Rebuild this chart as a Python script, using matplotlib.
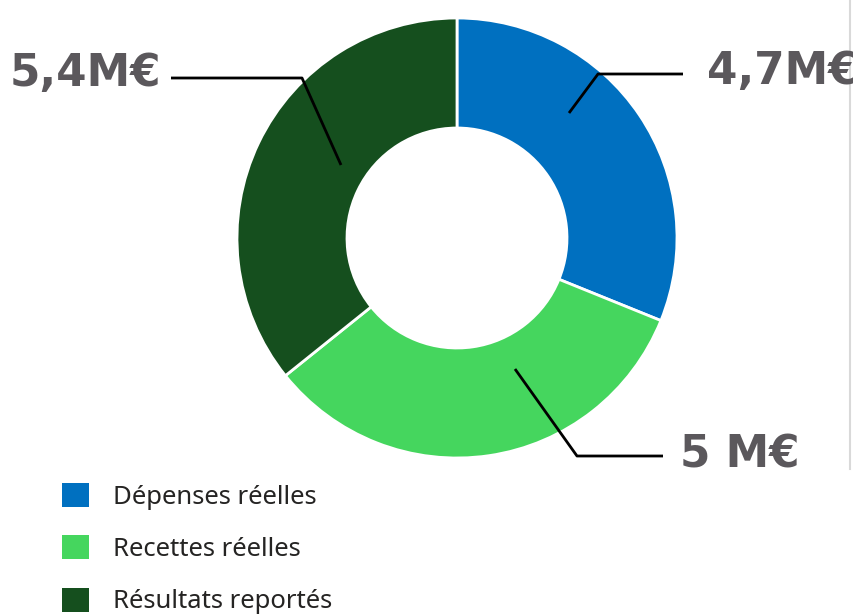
import matplotlib.pyplot as plt
from matplotlib.patches import Patch

categories = ['Dépenses réelles', 'Recettes réelles', 'Résultats reportés']
values = [4.7, 5.0, 5.4]
labels = ['4,7M€', '5 M€', '5,4M€']
colors = ['#0070c0', '#45d65e', '#154f1e']

W, H = 854, 615
fig = plt.figure(figsize=(W / 100, H / 100), dpi=100)
ax = fig.add_axes([0, 0, 1, 1])

cx, cy, R = 457, H - 238, 220
wedges, _ = ax.pie(values, colors=colors, startangle=90, counterclock=False,
                   center=(cx, cy), radius=R, frame=True,
                   wedgeprops=dict(width=R / 2, edgecolor='white', linewidth=2))
ax.set_xlim(0, W)
ax.set_ylim(0, H)
ax.set_aspect('equal')
ax.axis('off')

# leader lines (pixel layout): start, elbow, end, text x, text y
leaders = [
    ((569, 113), (598, 74), (683, 74), 707, 72),
    ((515, 369), (577, 456), (663, 456), 680, 455),
    ((341, 165), (302, 78), (171, 78), 10, 73),
]
for (p0, p1, p2, tx, ty), lab in zip(leaders, labels):
    xs = [p0[0], p1[0], p2[0]]
    ys = [H - p0[1], H - p1[1], H - p2[1]]
    ax.plot(xs, ys, color='black', lw=2, solid_capstyle='butt')
    ax.text(tx, H - ty, lab, ha='left', va='center', fontsize=31.5,
            fontweight='heavy', color='#5b585c', family='DejaVu Sans')

# thin border at right
ax.plot([850, 850], [H, H - 469], color='#d9d9d9', lw=1.5)

handles = [Patch(facecolor=c, edgecolor='none') for c in colors]
leg = ax.legend(handles, categories, loc='upper left',
                bbox_to_anchor=(62 / W, 1 - 483 / H), bbox_transform=fig.transFigure,
                frameon=False, prop={'family': 'Noto Sans', 'size': 18.5},
                handlelength=1.05, handleheight=1.05, handletextpad=0.95,
                labelspacing=1.0, borderpad=0, borderaxespad=0)
for t in leg.get_texts():
    t.set_color('#252423')

fig.savefig('out.png', dpi=100)
